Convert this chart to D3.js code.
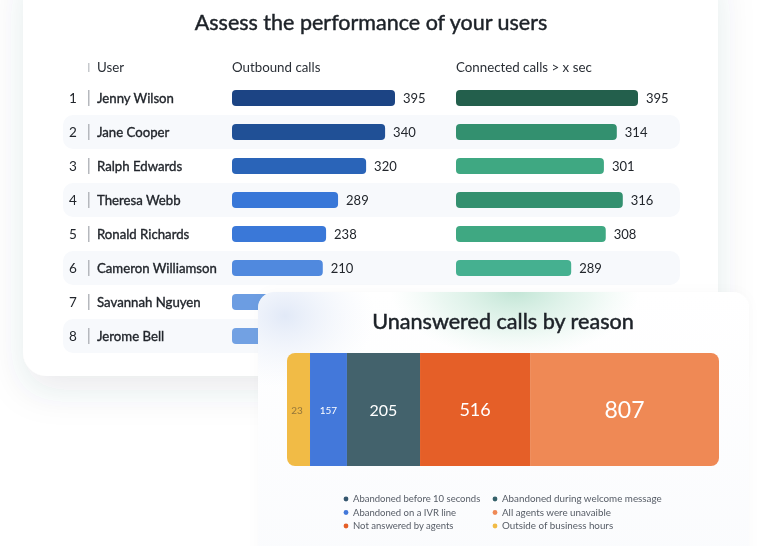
<!DOCTYPE html>
<html>
<head>
<meta charset="utf-8">
<script src="https://cdn.jsdelivr.net/npm/d3@7"></script>
<style>
  html, body { margin: 0; padding: 0; background: #fff; overflow: hidden; }
  text { font-family: "Lato", sans-serif; }
  svg { filter: blur(0.3px); }
</style>
</head>
<body>
<div id="chart"></div>
<script>
var svgWidth = 769;
var svgHeight = 546;

var users = ["Jenny Wilson", "Jane Cooper", "Ralph Edwards", "Theresa Webb", "Ronald Richards", "Cameron Williamson", "Savannah Nguyen", "Jerome Bell"];

// printed numbers
var outboundLabels = [395, 340, 320, 289, 238, 210];
var connectedLabels = [395, 314, 301, 316, 308, 289];

// the bars in the picture are not in proportion to their printed numbers,
// so these are the lengths, in the same units
var outboundLengths = [395, 371, 325, 257, 228, 220, 190, 185];
var connectedLengths = [395, 349, 321, 362, 325, 250];

var outboundColors = ["#1c4484", "#205096", "#2a64b8", "#3877d8", "#3a78d8", "#5089de", "#6c9de2", "#72a1e3"];
var connectedColors = ["#235f4c", "#33906f", "#3fa882", "#33906f", "#3fa882", "#45b090"];

var reasonLabels = [23, 157, 205, 516, 807];
var reasonLengths = [91, 146, 289, 435, 747];
var reasonColors = ["#f1bb46", "#4378da", "#43626c", "#e55f28", "#ef8955"];
var reasonFontSizes = [10, 10, 16, 18, 23];
var reasonTextColors = ["#94763a", "#ffffff", "#ffffff", "#ffffff", "#ffffff"];

var legendLeft = ["Abandoned before 10 seconds", "Abandoned on a IVR line", "Not answered by agents"];
var legendLeftColors = ["#35566e", "#4378da", "#e55f28"];
var legendRight = ["Abandoned during welcome message", "All agents were unavaible", "Outside of business hours"];
var legendRightColors = ["#35616a", "#ef8955", "#f1bb46"];

var svg = d3.select("#chart")
  .append("svg")
  .attr("width", svgWidth)
  .attr("height", svgHeight)
  .style("display", "block");

var defs = svg.append("defs");

var shadow = defs.append("filter").attr("id", "cardShadow")
  .attr("x", "-20%").attr("y", "-20%").attr("width", "140%").attr("height", "140%");
shadow.append("feDropShadow")
  .attr("dx", 0).attr("dy", 14).attr("stdDeviation", 18)
  .attr("flood-color", "#3a4660").attr("flood-opacity", 0.11);

var softShadow = defs.append("filter").attr("id", "softShadow")
  .attr("x", "-10%").attr("y", "-10%").attr("width", "120%").attr("height", "120%");
softShadow.append("feDropShadow")
  .attr("dx", 0).attr("dy", 0).attr("stdDeviation", 6)
  .attr("flood-color", "#3a4660").attr("flood-opacity", 0.025);

var cardFill = defs.append("linearGradient").attr("id", "cardFill")
  .attr("x1", 0).attr("y1", 0).attr("x2", 0).attr("y2", 1);
cardFill.append("stop").attr("offset", "0%").attr("stop-color", "#ffffff");
cardFill.append("stop").attr("offset", "100%").attr("stop-color", "#fafbfd");

var blueGlow = defs.append("radialGradient").attr("id", "blueGlow");
blueGlow.append("stop").attr("offset", "0%").attr("stop-color", "#e0e8f7").attr("stop-opacity", 0.95);
blueGlow.append("stop").attr("offset", "100%").attr("stop-color", "#f0f4fb").attr("stop-opacity", 0);

var greenGlow = defs.append("radialGradient").attr("id", "greenGlow");
greenGlow.append("stop").attr("offset", "0%").attr("stop-color", "#bde3d2").attr("stop-opacity", 0.95);
greenGlow.append("stop").attr("offset", "60%").attr("stop-color", "#d5efe3").attr("stop-opacity", 0.5);
greenGlow.append("stop").attr("offset", "100%").attr("stop-color", "#e5f5ee").attr("stop-opacity", 0);

defs.append("clipPath").attr("id", "lowerCardClip")
  .append("rect").attr("x", 258).attr("y", 292).attr("width", 491).attr("height", 280).attr("rx", 16);

defs.append("clipPath").attr("id", "stackClip")
  .append("rect").attr("x", 287).attr("y", 353).attr("width", 432).attr("height", 113).attr("rx", 8);

// upper card
var upper = svg.append("g");

upper.append("rect")
  .attr("x", 23).attr("y", -40).attr("width", 695).attr("height", 416).attr("rx", 24)
  .attr("fill", "#fff")
  .attr("filter", "url(#cardShadow)");

upper.append("text")
  .attr("x", 371).attr("y", 30)
  .attr("text-anchor", "middle")
  .attr("font-size", 21.5)
  .attr("stroke", "#1d2228").attr("stroke-width", 0.45)
  .attr("fill", "#1d2228")
  .text("Assess the performance of your users");

var rowScale = d3.scalePoint()
  .domain(d3.range(users.length))
  .range([98, 336]);

var outboundScale = d3.scaleLinear().domain([0, 395]).range([232, 395]);
var connectedScale = d3.scaleLinear().domain([0, 395]).range([456, 638]);

upper.selectAll(".stripe")
  .data(users.filter((d, i) => i % 2 == 1))
  .join("rect")
  .attr("class", "stripe")
  .attr("x", 63)
  .attr("y", (d, i) => rowScale(i * 2 + 1) - 17)
  .attr("width", 617)
  .attr("height", 34)
  .attr("rx", 10)
  .attr("fill", "#f7f9fc");

// header
upper.append("rect").attr("x", 88.2).attr("y", 63).attr("width", 1.2).attr("height", 9).attr("fill", "#b9bcc1");
var headers = [["User", 97], ["Outbound calls", 232], ["Connected calls > x sec", 456]];
upper.selectAll(".header")
  .data(headers)
  .join("text")
  .attr("class", "header")
  .attr("x", d => d[1]).attr("y", 72)
  .attr("font-size", 13.3)
  .attr("fill", "#2a2f36")
  .text(d => d[0]);

// rows
var rows = upper.selectAll(".row")
  .data(users)
  .join("g")
  .attr("class", "row")
  .attr("transform", (d, i) => `translate(0, ${rowScale(i)})`);

rows.append("text")
  .attr("x", 73).attr("y", 4.5)
  .attr("text-anchor", "middle")
  .attr("font-size", 13.5)
  .attr("fill", "#22262c")
  .text((d, i) => i + 1);

rows.append("rect")
  .attr("x", 88).attr("y", -8).attr("width", 1.5).attr("height", 16)
  .attr("fill", "#b5b8bd");

rows.append("text")
  .attr("x", 97).attr("y", 4.5)
  .attr("font-size", 13.2)
  .attr("stroke", "#22262c").attr("stroke-width", 0.35)
  .attr("fill", "#22262c")
  .text(d => d);

function drawBars(lengths, labels, colors, scale, name) {
  upper.selectAll("." + name)
    .data(lengths)
    .join("rect")
    .attr("class", name)
    .attr("x", scale(0))
    .attr("y", (d, i) => rowScale(i) - 8)
    .attr("width", d => scale(d) - scale(0))
    .attr("height", 16)
    .attr("rx", 4)
    .attr("fill", (d, i) => colors[i]);

  upper.selectAll("." + name + "Label")
    .data(labels)
    .join("text")
    .attr("class", name + "Label")
    .attr("x", (d, i) => scale(lengths[i]) + 8)
    .attr("y", (d, i) => rowScale(i) + 4.5)
    .attr("font-size", 13)
    .attr("fill", "#22262c")
    .text(d => d);
}

drawBars(outboundLengths, outboundLabels, outboundColors, outboundScale, "outbound");
drawBars(connectedLengths, connectedLabels, connectedColors, connectedScale, "connected");

// lower card
var lower = svg.append("g");

lower.append("rect")
  .attr("x", 258).attr("y", 292).attr("width", 491).attr("height", 280).attr("rx", 16)
  .attr("fill", "url(#cardFill)")
  .attr("filter", "url(#softShadow)");

var glows = lower.append("g").attr("clip-path", "url(#lowerCardClip)");
glows.append("ellipse")
  .attr("cx", 285).attr("cy", 316).attr("rx", 90).attr("ry", 72)
  .attr("fill", "url(#blueGlow)");
glows.append("ellipse")
  .attr("cx", 515).attr("cy", 290).attr("rx", 125).attr("ry", 68)
  .attr("fill", "url(#greenGlow)");

lower.append("text")
  .attr("x", 503).attr("y", 329)
  .attr("text-anchor", "middle")
  .attr("font-size", 21.6)
  .attr("stroke", "#1d2228").attr("stroke-width", 0.5)
  .attr("fill", "#1d2228")
  .text("Unanswered calls by reason");

// stacked bar
var stackScale = d3.scaleLinear()
  .domain([0, d3.sum(reasonLengths)])
  .range([287, 719]);

var reasonStarts = reasonLengths.map((d, i) => d3.sum(reasonLengths.slice(0, i)));

var stackGroup = lower.append("g").attr("clip-path", "url(#stackClip)");
stackGroup.selectAll("rect")
  .data(reasonLengths)
  .join("rect")
  .attr("x", (d, i) => stackScale(reasonStarts[i]))
  .attr("y", 353)
  .attr("width", d => stackScale(d) - stackScale(0))
  .attr("height", 113)
  .attr("fill", (d, i) => reasonColors[i]);

lower.selectAll(".stackLabel")
  .data(reasonLabels)
  .join("text")
  .attr("class", "stackLabel")
  .attr("x", (d, i) => stackScale(reasonStarts[i] + reasonLengths[i] / 2) - (i == 0 ? 1.5 : 0))
  .attr("y", 410)
  .attr("dy", "0.35em")
  .attr("text-anchor", "middle")
  .attr("font-size", (d, i) => reasonFontSizes[i])
  .attr("fill", (d, i) => reasonTextColors[i])
  .text(d => d);

// legend
var legendRow = d3.scalePoint().domain([0, 1, 2]).range([499, 526]);

function drawLegend(items, colors, dotX, fontSize) {
  var entry = lower.append("g").selectAll("g")
    .data(items)
    .join("g")
    .attr("transform", (d, i) => `translate(${dotX}, ${legendRow(i)})`);
  entry.append("circle").attr("r", 2.4).attr("fill", (d, i) => colors[i]);
  entry.append("text")
    .attr("x", 7).attr("y", 3.4)
    .attr("font-size", fontSize)
    .attr("fill", "#565c66")
    .text(d => d);
}

drawLegend(legendLeft, legendLeftColors, 346, 9.5);
drawLegend(legendRight, legendRightColors, 495, 9.8);
</script>
</body>
</html>
